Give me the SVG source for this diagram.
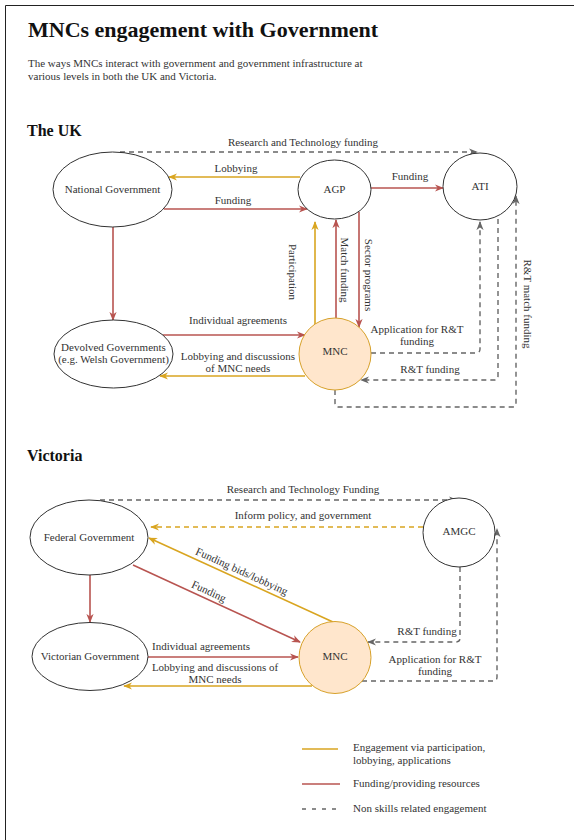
<svg xmlns="http://www.w3.org/2000/svg" width="574" height="840" viewBox="0 0 574 840">
<style>
text{font-family:"Liberation Serif","Times New Roman",serif;fill:#333;font-size:11px}
.title{font-size:22px;font-weight:bold;fill:#111}
.sec{font-size:16px;font-weight:bold;fill:#111}
.c{text-anchor:middle}
.node{fill:#fff;stroke:#333;stroke-width:1}
.mnc{fill:#ffe6cc;stroke:#d7a12a;stroke-width:1}
.g{fill:none;stroke:#d9a520;stroke-width:1.6}
.r{fill:none;stroke:#b85450;stroke-width:1.6}
.d{fill:none;stroke:#666;stroke-width:1.4;stroke-dasharray:5 4}
.dg{fill:none;stroke:#d9a520;stroke-width:1.4;stroke-dasharray:5 4}
</style>
<defs>
<marker id="ag" viewBox="0 0 10 10" refX="9" refY="5" markerWidth="9" markerHeight="9" markerUnits="userSpaceOnUse" orient="auto"><path d="M0,1 L10,5 L0,9 L3,5 z" fill="#d9a520"/></marker>
<marker id="ar" viewBox="0 0 10 10" refX="9" refY="5" markerWidth="9" markerHeight="9" markerUnits="userSpaceOnUse" orient="auto"><path d="M0,1 L10,5 L0,9 L3,5 z" fill="#b85450"/></marker>
<marker id="ad" viewBox="0 0 10 10" refX="9" refY="5" markerWidth="9" markerHeight="9" markerUnits="userSpaceOnUse" orient="auto"><path d="M0,1 L10,5 L0,9 L3,5 z" fill="#666"/></marker>
</defs>
<rect width="574" height="840" fill="#fff"/>
<path d="M5.5,840 L5.5,5.5 L574,5.5" fill="none" stroke="#222" stroke-width="1"/>

<text class="title" x="28" y="37">MNCs engagement with Government</text>
<text x="28" y="67">The ways MNCs interact with government and government infrastructure at</text>
<text x="28" y="80">various levels in both the UK and Victoria.</text>

<text class="sec" x="27" y="136">The UK</text>
<text class="sec" x="27" y="461">Victoria</text>

<g id="connectors">
<!-- UK -->
<path class="d" d="M120,152 L477,152" marker-end="url(#ad)"/>
<path class="g" d="M300,177 L169,177" marker-end="url(#ag)"/>
<path class="r" d="M164,209 L307,209" marker-end="url(#ar)"/>
<path class="r" d="M371,188 L443,188" marker-end="url(#ar)"/>
<path class="r" d="M113,227 L113,320" marker-end="url(#ar)"/>
<path class="g" d="M315,324 L315,222" marker-end="url(#ag)"/>
<path class="r" d="M336,318 L336,220" marker-end="url(#ar)"/>
<path class="r" d="M359,212 L359,327" marker-end="url(#ar)"/>
<path class="r" d="M163,335 L305,335" marker-end="url(#ar)"/>
<path class="g" d="M305,376 L160,376" marker-end="url(#ag)"/>
<path class="d" d="M371,353 L476,353 Q480,353 480,349 L480,222" marker-end="url(#ad)"/>
<path class="d" d="M498,219 L498,376 Q498,380 494,380 L361,380" marker-end="url(#ad)"/>
<path class="d" d="M335,390 L335,403 Q335,407 339,407 L512,407 Q516,407 516,403 L516,196" marker-end="url(#ad)"/>
<!-- Victoria -->
<path class="d" d="M100,500 L457,500" marker-end="url(#ad)"/>
<path class="dg" d="M423,527 L151,527" marker-end="url(#ag)"/>
<path class="g" d="M333,622 L149,538" marker-end="url(#ag)"/>
<path class="r" d="M133,565 L300,642" marker-end="url(#ar)"/>
<path class="r" d="M90,575 L90,622" marker-end="url(#ar)"/>
<path class="r" d="M148,657 L298,657" marker-end="url(#ar)"/>
<path class="g" d="M312,686 L124,686" marker-end="url(#ag)"/>
<path class="d" d="M460,567 L460,638 Q460,642 456,642 L368,642" marker-end="url(#ad)"/>
<path class="d" d="M362,681 L493,681 Q497,681 497,677 L497,529" marker-end="url(#ad)"/>

<!-- labels -->
<text class="c" x="303" y="146">Research and Technology funding</text>
<text class="c" x="236" y="172">Lobbying</text>
<text class="c" x="233" y="204">Funding</text>
<text class="c" x="410" y="180">Funding</text>
<text class="c" transform="translate(293,272) rotate(90)" y="4">Participation</text>
<text class="c" transform="translate(345,270) rotate(90)" y="4">Match funding</text>
<text class="c" transform="translate(369,275) rotate(90)" y="4">Sector programs</text>
<text class="c" x="238" y="324">Individual agreements</text>
<text class="c" x="238" y="360">Lobbying and discussions</text>
<text class="c" x="238" y="372">of MNC needs</text>
<text class="c" x="417" y="333">Application for R&amp;T</text>
<text class="c" x="417" y="345">funding</text>
<text class="c" x="430" y="373">R&amp;T funding</text>
<text class="c" transform="translate(528,304) rotate(90)" y="4">R&amp;T match funding</text>

<text class="c" x="303" y="493">Research and Technology Funding</text>
<text class="c" x="303" y="519">Inform policy, and government</text>
<text class="c" transform="translate(242,571) rotate(24.5)" y="4">Funding bids/lobbying</text>
<text class="c" transform="translate(209,591) rotate(24.8)" y="4">Funding</text>
<text class="c" x="201" y="650">Individual agreements</text>
<text class="c" x="215" y="671">Lobbying and discussions of</text>
<text class="c" x="215" y="683">MNC needs</text>
<text class="c" x="427" y="635">R&amp;T funding</text>
<text class="c" x="435" y="663">Application for R&amp;T</text>
<text class="c" x="435" y="675">funding</text>
</g>

<g id="national-government"><ellipse class="node" cx="112.5" cy="189.5" rx="59.5" ry="37.5"/><text class="c" x="112.5" y="193">National Government</text></g>
<g id="agp"><ellipse class="node" cx="334.5" cy="189.5" rx="36.5" ry="29.5"/><text class="c" x="334.5" y="193">AGP</text></g>
<g id="ati"><ellipse class="node" cx="480" cy="186.5" rx="37" ry="33.5"/><text class="c" x="480" y="190">ATI</text></g>
<g id="devolved-governments"><ellipse class="node" cx="113.5" cy="354" rx="59.5" ry="34"/><text class="c" x="113.5" y="351">Devolved Governments</text><text class="c" x="113.5" y="363">(e.g. Welsh Government)</text></g>
<g id="mnc-uk"><circle class="mnc" cx="335" cy="354" r="36"/><text class="c" x="335" y="355">MNC</text></g>

<g id="federal-government"><ellipse class="node" cx="89" cy="537.5" rx="59" ry="37.5"/><text class="c" x="89" y="541">Federal Government</text></g>
<g id="amgc"><ellipse class="node" cx="459" cy="532.5" rx="36" ry="34.5"/><text class="c" x="459" y="535">AMGC</text></g>
<g id="victorian-government"><ellipse class="node" cx="90" cy="656.5" rx="58" ry="34"/><text class="c" x="90" y="660">Victorian Government</text></g>
<g id="mnc-vic"><circle class="mnc" cx="335" cy="657.5" r="36"/><text class="c" x="335" y="660">MNC</text></g>

<g id="legend">
<path d="M302,749 L338,749" stroke="#d9a520" stroke-width="1.6"/>
<text x="353" y="751">Engagement via participation,</text>
<text x="353" y="764">lobbying, applications</text>
<path d="M302,784 L340,784" stroke="#b85450" stroke-width="1.6"/>
<text x="353" y="787">Funding/providing resources</text>
<path d="M302,809 L341,809" stroke="#666" stroke-width="1.4" stroke-dasharray="4 6"/>
<text x="353" y="812">Non skills related engagement</text>
</g>
</svg>
